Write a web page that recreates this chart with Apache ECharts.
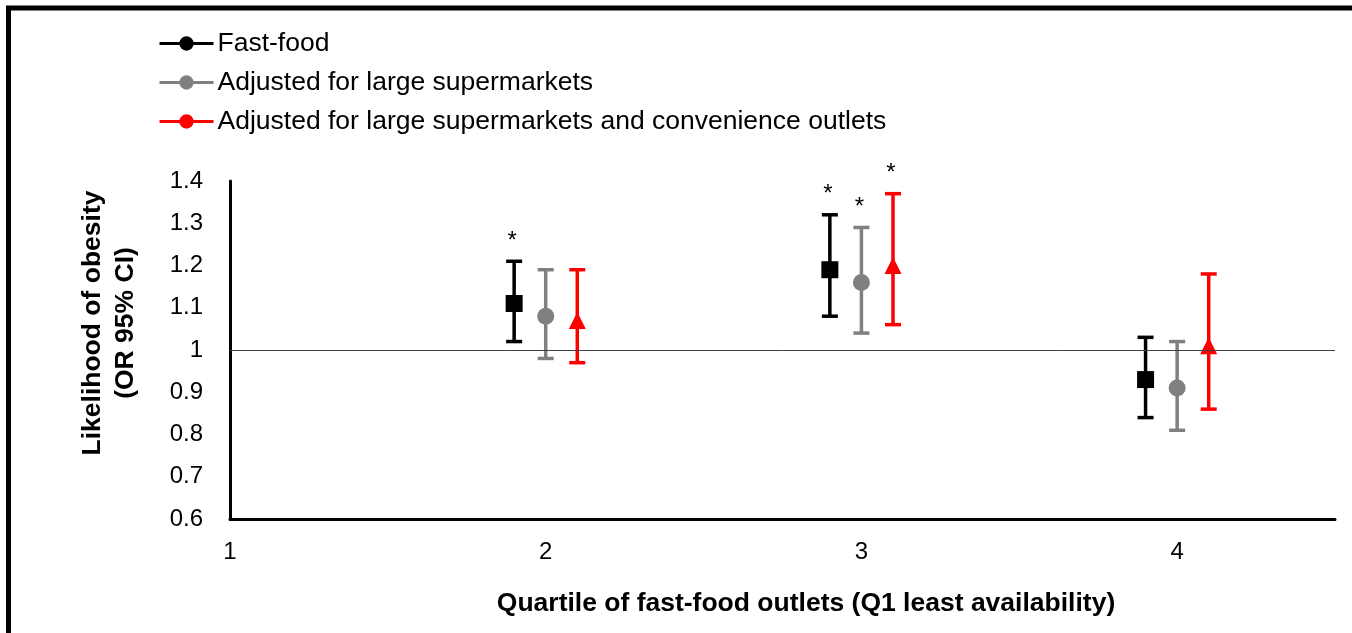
<!DOCTYPE html>
<html>
<head>
<meta charset="utf-8">
<script src="https://cdn.jsdelivr.net/npm/echarts@6/dist/echarts.min.js"></script>
<style>
html,body{margin:0;padding:0;background:#fff;}
#chart{width:1352px;height:633px;}
</style>
</head>
<body>
<div id="chart"></div>
<script>
// ---- data ----
const quartiles = [2, 3, 4];
const seriesNames = [
  'Fast-food',
  'Adjusted for large supermarkets',
  'Adjusted for large supermarkets and convenience outlets'
];
const fastFoodOR   = [1.11, 1.19, 0.93];
const fastFoodLow  = [1.02, 1.08, 0.84];
const fastFoodHigh = [1.21, 1.32, 1.03];
const fastFoodSig  = [true, true, false];

const superOR   = [1.08, 1.16, 0.91];
const superLow  = [0.98, 1.04, 0.81];
const superHigh = [1.19, 1.29, 1.02];
const superSig  = [false, true, false];

const convOR   = [1.07, 1.20, 1.01];
const convLow  = [0.97, 1.06, 0.86];
const convHigh = [1.19, 1.37, 1.18];
const convSig  = [false, true, false];

const xTicks = [1, 2, 3, 4];
const yTicks = [0.6, 0.7, 0.8, 0.9, 1, 1.1, 1.2, 1.3, 1.4];

// ---- styling ----
const colors = ['#000000', '#808080', '#ff0000'];
const symbols = ['rect', 'circle', 'triangle'];
const symbolSizes = [17, 17, 17];
const xOffsets = [-0.1, 0, 0.1];
const groups = [
  {or: fastFoodOR, low: fastFoodLow, high: fastFoodHigh, sig: fastFoodSig},
  {or: superOR, low: superLow, high: superHigh, sig: superSig},
  {or: convOR, low: convLow, high: convHigh, sig: convSig}
];

const chart = echarts.init(document.getElementById('chart'));
const series = [];

// legend-only line series
seriesNames.forEach((n, i) => {
  series.push({
    name: n, type: 'line', data: [],
    symbol: 'circle', symbolSize: 14,
    itemStyle: {color: colors[i]},
    lineStyle: {color: colors[i], width: 3}
  });
});

// reference line at OR = 1
series.push({
  type: 'line', data: [], silent: true,
  markLine: {
    silent: true, symbol: 'none', label: {show: false},
    lineStyle: {color: '#404040', width: 1, type: 'solid'},
    emphasis: {disabled: true},
    data: [{yAxis: 1}]
  }
});

groups.forEach((g, gi) => {
  const data = quartiles.map((q, k) => [q + xOffsets[gi], g.low[k], g.high[k], g.sig[k] ? 1 : 0]);
  series.push({
    type: 'custom', silent: true, z: 3,
    data: data,
    encode: {x: 0, y: [1, 2]},
    renderItem: function (params, api) {
      const x = api.value(0);
      const lo = api.coord([x, api.value(1)]);
      const hi = api.coord([x, api.value(2)]);
      const cap = 8;
      const style = {stroke: colors[gi], lineWidth: 3.5};
      const children = [
        {type: 'line', shape: {x1: lo[0], y1: lo[1], x2: hi[0], y2: hi[1]}, style: style},
        {type: 'line', shape: {x1: hi[0] - cap, y1: hi[1], x2: hi[0] + cap, y2: hi[1]}, style: style},
        {type: 'line', shape: {x1: lo[0] - cap, y1: lo[1], x2: lo[0] + cap, y2: lo[1]}, style: style}
      ];
      if (api.value(3)) {
        children.push({
          type: 'text',
          style: {
            text: '*', x: hi[0] - 2, y: hi[1] - 8,
            fill: '#000', font: '24px "Liberation Sans", Arial, sans-serif',
            align: 'center', verticalAlign: 'bottom'
          }
        });
      }
      return {type: 'group', children: children};
    }
  });
  series.push({
    type: 'scatter', silent: true, z: 4,
    symbol: symbols[gi], symbolSize: symbolSizes[gi],
    itemStyle: {color: colors[gi], opacity: 1},
    data: quartiles.map((q, k) => [q + xOffsets[gi], g.or[k]])
  });
});

const font = '"Liberation Sans", Arial, sans-serif';

chart.setOption({
  animation: false,
  backgroundColor: '#fff',
  textStyle: {fontFamily: font},
  legend: {
    data: seriesNames,
    orient: 'vertical',
    left: 153, top: 25,
    itemWidth: 54, itemHeight: 18, itemGap: 12,
    selectedMode: false,
    lineStyle: {width: 3},
    textStyle: {fontSize: 26.5, color: '#000', fontFamily: font, padding: [0, 0, 0, -1]}
  },
  grid: {left: 230, right: 17, top: 181, bottom: 114, containLabel: false},
  xAxis: {
    type: 'value', min: 1, max: 4.5, interval: 1,
    axisLine: {show: true, onZero: false, lineStyle: {color: '#000', width: 3}},
    axisTick: {show: false},
    splitLine: {show: false},
    axisLabel: {
      fontSize: 24, color: '#000', margin: 21, fontFamily: font,
      formatter: v => (xTicks.indexOf(v) >= 0 ? String(v) : '')
    }
  },
  yAxis: {
    type: 'value', min: 0.6, max: 1.4, interval: 0.1,
    axisLine: {show: true, lineStyle: {color: '#000', width: 3}},
    axisTick: {show: false},
    splitLine: {show: false},
    axisLabel: {
      fontSize: 24, color: '#000', margin: 27, fontFamily: font,
      formatter: v => {
        const r = Math.round(v * 10) / 10;
        return yTicks.indexOf(r) >= 0 ? String(r) : '';
      }
    }
  },
  graphic: [
    {
      type: 'rect', silent: true, z: 100,
      shape: {x: 8.5, y: 8, width: 2000, height: 2000},
      style: {fill: 'none', stroke: '#000', lineWidth: 5}
    },
    {
      type: 'text', silent: true,
      x: 109, y: 323, rotation: Math.PI / 2,
      style: {
        text: 'Likelihood of obesity\n(OR 95% CI)',
        font: 'bold 26.5px "Liberation Sans", Arial, sans-serif',
        fill: '#000', align: 'center', verticalAlign: 'middle', lineHeight: 33
      }
    },
    {
      type: 'text', silent: true,
      x: 806, y: 604,
      style: {
        text: 'Quartile of fast-food outlets (Q1 least availability)',
        font: 'bold 26.5px "Liberation Sans", Arial, sans-serif',
        fill: '#000', align: 'center', verticalAlign: 'middle'
      }
    }
  ],
  series: series
});
</script>
</body>
</html>
